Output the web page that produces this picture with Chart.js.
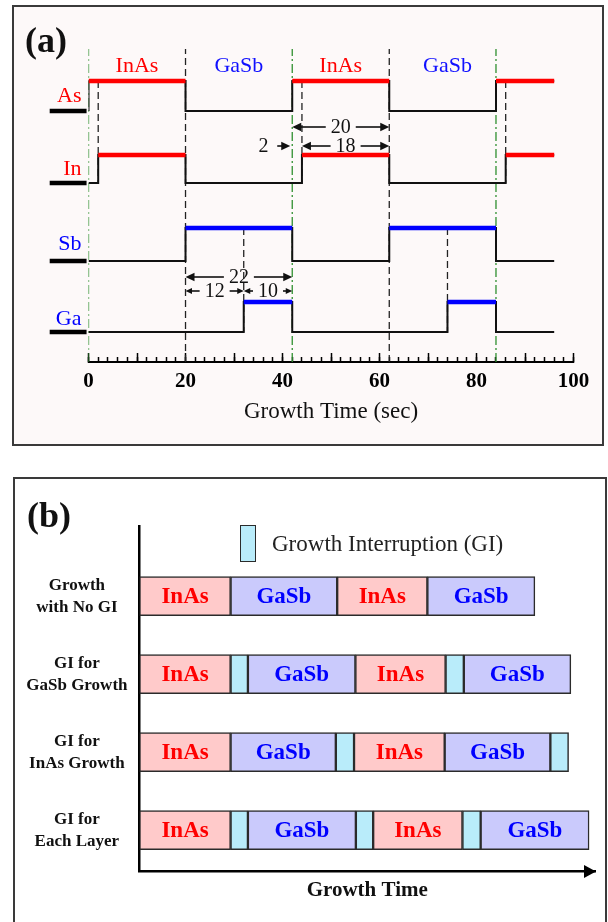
<!DOCTYPE html>
<html><head><meta charset="utf-8">
<script src="https://cdn.jsdelivr.net/npm/chart.js@4.4.1/dist/chart.umd.min.js"></script>
<style>
html,body{margin:0;padding:0;background:#fff;width:608px;height:922px;overflow:hidden;}
.panel{position:absolute;box-sizing:border-box;border:2px solid #3a3a3a;}
#pa{left:12px;top:5px;width:592px;height:441px;background:#fdf9f9;}
#pb{left:13px;top:477px;width:594px;height:470px;background:#fff;}
.tag{position:absolute;font:bold 36px "Liberation Serif",serif;line-height:36px;color:#111;}
canvas{display:block;position:absolute;left:0;top:0;}
#legendB{position:absolute;left:225px;top:46px;height:37px;display:flex;align-items:center;}
</style></head>
<body>
<div class="panel" id="pa"><canvas id="ca" width="588" height="437"></canvas><div class="tag" style="left:11px;top:15px;">(a)</div></div>
<div class="panel" id="pb"><canvas id="cb" width="590" height="456"></canvas><div class="tag" style="left:12px;top:18px;">(b)</div><div id="legendB"></div></div>
<script>
// ================= Panel (a) data =================
const timeTickLabels = [0, 20, 40, 60, 80, 100];
const signalNames  = ['As', 'In', 'Sb', 'Ga'];
const signalColors = ['#ff0000', '#ff0000', '#0000ff', '#0000ff'];
const lowLevels    = [25.1, 17.9, 10.1, 3.0];
const highLevels   = [28.1, 20.7, 13.4, 6.0];
const nameLevels   = [26.6, 19.3, 11.8, 4.3];
const asOn = [[0, 20], [42, 62], [84, 96]];
const inOn = [[2, 20], [44, 62], [86, 96]];
const sbOn = [[20, 42], [62, 84]];
const gaOn = [[32, 42], [74, 84]];
const onIntervals = [asOn, inOn, sbOn, gaOn];
const traceStart = 0, traceEnd = 96, stubStart = -8, stubEnd = -0.4;
const layerNames   = ['InAs', 'GaSb', 'InAs', 'GaSb'];
const layerCenters = [10, 31, 52, 74];
const layerLevel   = 29.6;
const topLevel     = 31.3;
const greenLines   = [0, 42, 84];
const dashedFull   = [20, 62];
const dashedAsIn   = [2, 44, 86];
const dashedSbGa   = [32, 74];
const spanFrom   = [42, 44, 20, 20, 32];
const spanTo     = [62, 62, 42, 32, 42];
const spanLevel  = [23.5, 21.6, 8.5, 7.1, 7.1];
const spanLabel  = ['20', '18', '22', '12', '10'];
const pointerAt = 42, pointerLevel = 21.6, pointerLabel = '2', pointerLabelX = 36.1;

// ================= Panel (b) data =================
const rowLabels = [['Growth', 'with No GI'], ['GI for', 'GaSb Growth'], ['GI for', 'InAs Growth'], ['GI for', 'Each Layer']];
const rowPositions = [1, 2, 3, 4];
const rowEdges = [
  [0, 20, 43.4, 63.2, 86.8],
  [0, 20, 23.8, 47.4, 67.2, 71.2, 94.7],
  [0, 20, 43.1, 47.1, 67.0, 90.2, 94.2],
  [0, 20, 23.8, 47.5, 51.3, 70.9, 74.9, 98.7]
];
const rowLayers = [
  ['InAs', 'GaSb', 'InAs', 'GaSb'],
  ['InAs', 'GI', 'GaSb', 'InAs', 'GI', 'GaSb'],
  ['InAs', 'GaSb', 'GI', 'InAs', 'GaSb', 'GI'],
  ['InAs', 'GI', 'GaSb', 'GI', 'InAs', 'GI', 'GaSb']
];
const layerKinds  = ['InAs', 'GaSb', 'GI'];
const kindLabels  = ['InAs', 'GaSb', 'Growth Interruption (GI)'];
const kindFills   = ['#ffcaca', '#cacafc', '#b9ecfa'];
const kindText    = ['#ff0000', '#0000ff', null];

Chart.defaults.font.family = '"Liberation Serif", serif';
Chart.defaults.color = '#111';

// ---------- build panel (a) datasets ----------
const lineBase = {type: 'line', pointRadius: 0, pointHoverRadius: 0, fill: false, tension: 0, borderCapStyle: 'butt', spanGaps: false};
const dsA = [];
function vline(xv, y0, y1, color, dash, order) {
  dsA.push(Object.assign({}, lineBase, {data: [{x: xv, y: y0}, {x: xv, y: y1}], borderColor: color, borderWidth: 1.3, borderDash: dash, order: order}));
}
greenLines.forEach(v => vline(v, 0, topLevel, '#2f8f2f', [9, 3, 2, 3], 6));
dashedFull.forEach(v => vline(v, 0, topLevel, '#222', [7, 4], 6));
dashedAsIn.forEach(v => vline(v, highLevels[0], lowLevels[1], '#222', [7, 4], 6));
dashedSbGa.forEach(v => vline(v, highLevels[2], lowLevels[3], '#222', [7, 4], 6));

onIntervals.forEach((on, s) => {
  const lo = lowLevels[s], hi = highLevels[s];
  const pts = [{x: traceStart, y: lo}];
  on.forEach(([a, b]) => {
    pts.push({x: a, y: lo}, {x: a, y: hi}, {x: b, y: hi});
    if (b < traceEnd) pts.push({x: b, y: lo});
  });
  if (pts[pts.length - 1].x < traceEnd) pts.push({x: traceEnd, y: lo});
  dsA.push(Object.assign({}, lineBase, {data: pts, borderColor: '#111', borderWidth: 2, order: 3}));
  const hiPts = [];
  on.forEach(([a, b]) => { hiPts.push({x: a, y: hi}, {x: b, y: hi}, {x: b, y: null}); });
  dsA.push(Object.assign({}, lineBase, {data: hiPts, borderColor: signalColors[s], borderWidth: 4.5, order: 1}));
  dsA.push(Object.assign({}, lineBase, {data: [{x: stubStart, y: lo}, {x: stubEnd, y: lo}], borderColor: '#000', borderWidth: 4.5, order: 2, clip: false}));
});

function arrowHead(ctx, tx, ty, dir, len) {
  ctx.beginPath();
  ctx.moveTo(tx, ty);
  ctx.lineTo(tx - dir * len, ty - len * 0.48);
  ctx.lineTo(tx - dir * len, ty + len * 0.48);
  ctx.closePath();
  ctx.fill();
}
function hline(ctx, x1, x2, y) {
  if (x2 <= x1) return;
  ctx.beginPath(); ctx.moveTo(x1, y); ctx.lineTo(x2, y); ctx.stroke();
}

const annotateA = {
  id: 'annotateA',
  afterDatasetsDraw(chart) {
    const {ctx, scales: {x, y}} = chart;
    ctx.save();
    ctx.textAlign = 'center';
    ctx.textBaseline = 'middle';
    ctx.font = '22px "Liberation Serif"';
    layerNames.forEach((n, i) => {
      ctx.fillStyle = n === 'InAs' ? '#ff0000' : '#1010ff';
      ctx.fillText(n, x.getPixelForValue(layerCenters[i]), y.getPixelForValue(layerLevel));
    });
    ctx.font = '20px "Liberation Serif"';
    ctx.fillStyle = '#111';
    ctx.strokeStyle = '#111';
    ctx.lineWidth = 1.6;
    spanLabel.forEach((lab, i) => {
      const x1 = x.getPixelForValue(spanFrom[i]), x2 = x.getPixelForValue(spanTo[i]);
      const yy = y.getPixelForValue(spanLevel[i]);
      const cx = (x1 + x2) / 2;
      const w = ctx.measureText(lab).width;
      const head = (x2 - x1) > 70 ? 9 : 6.5;
      ctx.fillText(lab, cx, yy + 1);
      hline(ctx, x1 + head - 1, cx - w / 2 - 5, yy);
      hline(ctx, cx + w / 2 + 5, x2 - head + 1, yy);
      arrowHead(ctx, x1, yy, -1, head);
      arrowHead(ctx, x2, yy, 1, head);
    });
    const tip = x.getPixelForValue(pointerAt) - 2;
    const py = y.getPixelForValue(pointerLevel);
    hline(ctx, tip - 13, tip - 8, py);
    arrowHead(ctx, tip, py, 1, 9);
    ctx.fillText(pointerLabel, x.getPixelForValue(pointerLabelX), py + 1);
    ctx.restore();
  }
};

new Chart(document.getElementById('ca'), {
  type: 'line',
  data: {datasets: dsA},
  plugins: [annotateA],
  options: {
    responsive: false, animation: false, events: [],
    layout: {padding: {left: 0, right: 28.4, top: 42, bottom: 0}},
    plugins: {legend: {display: false}, tooltip: {enabled: false}},
    scales: {
      x: {
        type: 'linear', min: 0, max: 100,
        ticks: {
          stepSize: 2, autoSkip: false, maxRotation: 0, minRotation: 0, padding: 11.5, color: '#000',
          callback: v => timeTickLabels.includes(v) ? String(v) : '',
          font: {size: 21, weight: 'bold'}
        },
        grid: {drawOnChartArea: false, tickLength: -5, tickWidth: 1.5, tickColor: '#000'},
        border: {color: '#000', width: 2},
        title: {display: true, text: 'Growth Time (sec)', font: {size: 23}, color: '#111', padding: {top: 0, bottom: 18}},
        afterFit: s => { s.height = 82; }
      },
      x2: {
        type: 'linear', axis: 'x', position: {y: 0}, min: 0, max: 100,
        ticks: {stepSize: 10, display: false},
        grid: {drawOnChartArea: false, tickLength: -9, tickWidth: 1.5, tickColor: '#000'},
        border: {display: false}
      },
      y: {
        type: 'linear', min: 0, max: topLevel,
        afterBuildTicks: s => { s.ticks = nameLevels.map(v => ({value: v})); },
        ticks: {
          autoSkip: false, padding: 7,
          callback: (v, i) => signalNames[i],
          color: c => signalColors[c.index],
          font: {size: 22}
        },
        grid: {display: false, drawTicks: false},
        border: {display: false},
        afterFit: s => { s.width = 74.5; }
      }
    }
  }
});

// ---------- build panel (b) datasets ----------
const dsB = layerKinds.map((k, i) => ({
  label: kindLabels[i], data: [],
  backgroundColor: kindFills[i], borderColor: '#2b2b2b', borderWidth: 1.5, borderSkipped: false,
  grouped: false, barPercentage: 1, categoryPercentage: 1, maxBarThickness: 39
}));
rowEdges.forEach((edges, r) => {
  rowLayers[r].forEach((kind, i) => {
    dsB[layerKinds.indexOf(kind)].data.push({x: [edges[i], edges[i + 1]], y: rowPositions[r]});
  });
});

const barText = {
  id: 'barText',
  afterDatasetsDraw(chart) {
    const ctx = chart.ctx;
    ctx.save();
    ctx.font = 'bold 23px "Liberation Serif"';
    ctx.textAlign = 'center';
    ctx.textBaseline = 'middle';
    chart.data.datasets.forEach((ds, di) => {
      if (!kindText[di]) return;
      ctx.fillStyle = kindText[di];
      chart.getDatasetMeta(di).data.forEach(el => {
        const p = el.getProps(['x', 'y', 'base'], true);
        ctx.fillText(layerKinds[di], (p.x + p.base) / 2, p.y + 1);
      });
    });
    ctx.restore();
  }
};
const axisArrow = {
  id: 'axisArrow',
  afterDraw(chart) {
    const s = chart.scales.x, ctx = chart.ctx;
    const y = s.top, tip = s.right + 1;
    ctx.save();
    ctx.fillStyle = '#000';
    ctx.beginPath();
    ctx.moveTo(tip, y); ctx.lineTo(tip - 12, y - 6.5); ctx.lineTo(tip - 12, y + 6.5);
    ctx.closePath(); ctx.fill();
    ctx.restore();
  }
};

const chartB = new Chart(document.getElementById('cb'), {
  type: 'bar',
  data: {datasets: dsB},
  plugins: [barText, axisArrow],
  options: {
    indexAxis: 'y', responsive: false, animation: false, events: [],
    layout: {padding: {left: 0, right: 10, top: 47, bottom: 23.5}},
    plugins: {legend: {display: false}, tooltip: {enabled: false}},
    scales: {
      x: {
        type: 'linear', min: 0, max: 100,
        ticks: {display: false},
        grid: {display: false, drawTicks: false},
        border: {display: true, color: '#000', width: 2.5},
        title: {display: true, text: 'Growth Time', font: {size: 21, weight: 'bold'}, color: '#111', padding: {top: 0, bottom: 8}},
        afterFit: s => { s.height = 40; }
      },
      y: {
        type: 'linear', reverse: true, min: 0.1, max: 4.53, offset: false,
        afterBuildTicks: s => { s.ticks = rowPositions.map(v => ({value: v})); },
        ticks: {
          autoSkip: false, padding: 12, crossAlign: 'center', color: '#111',
          callback: (v, i) => rowLabels[i],
          font: {size: 17, weight: 'bold', lineHeight: 1.3}
        },
        grid: {display: false, drawTicks: false},
        border: {display: true, color: '#000', width: 2.5},
        afterFit: s => { s.width = 124.5; }
      }
    }
  }
});

// HTML legend built from the chart's own legend items (GI only)
(function () {
  const el = document.getElementById('legendB');
  let items = [];
  try {
    items = chartB.options.plugins.legend.labels.generateLabels(chartB).filter(it => it.text === kindLabels[2]);
  } catch (e) {
    items = [{text: kindLabels[2], fillStyle: kindFills[2], strokeStyle: '#2b2b2b', lineWidth: 1.5}];
  }
  items.forEach(it => {
    const box = document.createElement('span');
    box.style.cssText = 'display:inline-block;box-sizing:border-box;width:16px;height:37px;margin-right:16px;background:' + it.fillStyle + ';border:' + Math.max(1.5, it.lineWidth || 0) + 'px solid ' + it.strokeStyle + ';';
    const t = document.createElement('span');
    t.textContent = it.text;
    t.style.cssText = 'font:23px "Liberation Serif",serif;color:#222;white-space:nowrap;';
    el.appendChild(box); el.appendChild(t);
  });
})();
</script>
</body></html>
